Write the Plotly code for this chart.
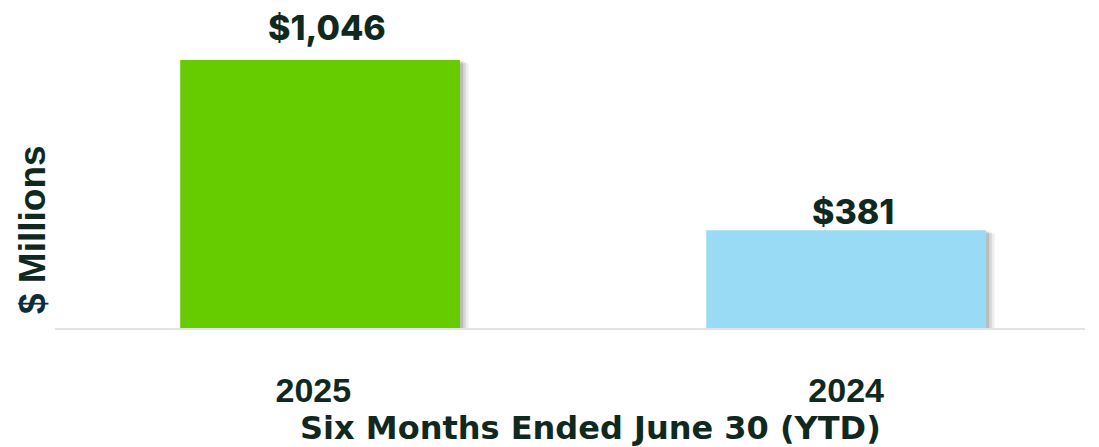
import plotly.graph_objects as go

# Six months ended June 30 (YTD), $ millions
periods = ['2025', '2024']
values = [1046, 381]
value_labels = ['$1,046', '$381']
bar_colors = ['#66CC00', '#99DAF4']

TEXT_COLOR = '#10291F'

fig = go.Figure()

# soft drop shadow behind each bar, built from a few faint layers
for spread, alpha in [(0.016, 0.07), (0.011, 0.09), (0.006, 0.12)]:
    fig.add_trace(go.Bar(
        x=[0, 1], y=values, width=0.532, offset=-0.266 + spread,
        base=[-0.004 * 1163 * (spread / 0.006)] * 2,
        marker=dict(color=f'rgba(0,0,0,{alpha})', line_width=0),
        hoverinfo='skip', showlegend=False,
    ))
fig.add_trace(go.Bar(
    x=[0, 1], y=values, width=0.532, offset=-0.266,
    marker=dict(color=bar_colors, line_width=0),
    showlegend=False,
))

# value labels above the bars
for i, (value, label, shift) in enumerate(zip(values, value_labels, [10, -4])):
    fig.add_annotation(
        x=i, y=value, text=label, showarrow=False,
        yanchor='bottom', xshift=7, yshift=shift,
        font=dict(family='Inter', size=34, weight=800, color=TEXT_COLOR),
    )

fig.add_annotation(
    x=0.52, y=-0.335, xref='paper', yref='paper',
    text='<b>Six Months Ended June 30 (YTD)</b>', showarrow=False,
    yanchor='middle',
    font=dict(family='DejaVu Sans', size=32, color=TEXT_COLOR),
)
fig.add_annotation(
    x=-0.022, y=0.33, xref='paper', yref='paper',
    text='<b><span style="color:#0B2E3C">$</span> Millions</b>',
    showarrow=False, textangle=-90, xanchor='center', yanchor='middle',
    font=dict(family='Liberation Sans', size=37, color=TEXT_COLOR),
)

# the page body adds an 8px margin, so the figure is 8px smaller
fig.update_layout(
    barmode='overlay',
    width=1091, height=439,
    margin=dict(l=47, r=14, t=22, b=119),
    paper_bgcolor='white', plot_bgcolor='white',
)
fig.update_xaxes(
    range=[-0.504, 1.454], tickvals=[-0.013, 1],
    ticktext=[f'<b>{p}</b>' for p in periods],
    showline=True, linecolor='#E0E3E8', linewidth=2,
    ticks='', ticklabelstandoff=31,
    tickfont=dict(family='Liberation Sans', size=34, color=TEXT_COLOR),
)
fig.update_yaxes(
    range=[0, 1163], showgrid=False, zeroline=False,
    showticklabels=False,
)

fig.write_html('out.html')
